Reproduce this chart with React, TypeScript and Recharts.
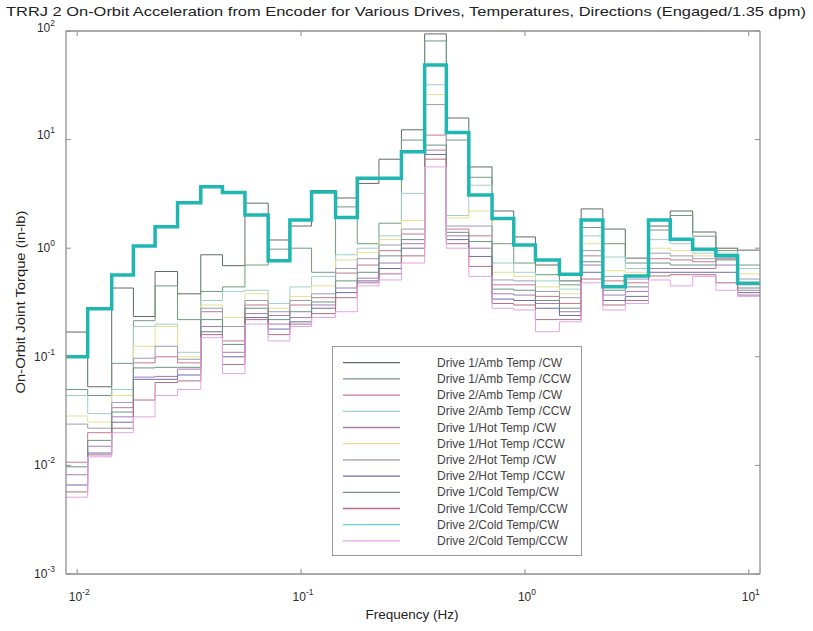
import { LineChart, Line, XAxis, YAxis, Legend } from 'recharts';

const FONT = '"Liberation Sans", Arial, Helvetica, sans-serif';
const AXIS = '#8f8f8f';

// one-third octave band centres (Hz)
const CENTERS = [
  0.01, 0.0125, 0.016, 0.02, 0.025, 0.0315, 0.04, 0.05, 0.063, 0.08,
  0.1, 0.125, 0.16, 0.2, 0.25, 0.315, 0.4, 0.5, 0.63, 0.8,
  1, 1.25, 1.6, 2, 2.5, 3.15, 4, 5, 6.3, 8, 10,
];
const X_TICKS = [0.01, 0.1, 1, 10];
const Y_TICKS = [0.001, 0.01, 0.1, 1, 10, 100];

// band torque levels (in-lb), one entry per band
const d1AmbCw = [0.169, 0.053, 0.43, 0.235, 0.61, 0.38, 0.87, 0.69, 2.6, 1.19, 1.6, 3.4, 2.9, 3.95, 6.6, 12.3, 94, 15.8, 5.6, 2.2, 1.27, 0.7, 0.5, 2.3, 1.5, 0.81, 1.6, 2.2, 1.41, 1.0, 0.96];
const d1AmbCcw = [0.05, 0.044, 0.087, 0.215, 0.45, 0.22, 0.4, 0.44, 0.7, 0.98, 1.0, 0.6, 2.4, 1.1, 1.7, 9.9, 81, 9.9, 4.5, 1.1, 0.73, 0.57, 0.46, 1.55, 1.1, 0.73, 1.47, 2.0, 1.29, 0.95, 0.7];
const d2AmbCw = [0.0107, 0.02, 0.034, 0.088, 0.1, 0.088, 0.26, 0.14, 0.3, 0.24, 0.3, 0.35, 0.59, 0.7, 0.95, 1.35, 11, 1.5, 1.3, 0.46, 0.46, 0.36, 0.31, 0.85, 0.5, 0.48, 0.8, 0.78, 0.75, 0.8, 0.46];
const d2AmbCcw = [0.044, 0.03, 0.05, 0.19, 0.2, 0.11, 0.33, 0.4, 0.41, 0.31, 0.44, 0.55, 0.87, 1.0, 1.3, 3.2, 32, 2.0, 3.8, 0.73, 0.6, 0.5, 0.42, 1.3, 0.83, 0.65, 1.2, 1.1, 0.9, 0.9, 0.65];
const d1HotCw = [0.0082, 0.015, 0.028, 0.065, 0.066, 0.077, 0.19, 0.11, 0.25, 0.2, 0.23, 0.3, 0.43, 0.53, 0.73, 1.1, 8.0, 1.3, 1.0, 0.38, 0.37, 0.31, 0.26, 0.7, 0.37, 0.4, 0.65, 0.65, 0.65, 0.7, 0.41];
const d1HotCcw = [0.0285, 0.025, 0.044, 0.125, 0.19, 0.1, 0.3, 0.23, 0.38, 0.28, 0.36, 0.45, 0.78, 0.91, 1.2, 1.8, 26, 1.9, 2.2, 0.6, 0.55, 0.44, 0.38, 1.1, 0.62, 0.6, 1.0, 0.95, 0.85, 0.87, 0.58];
const d2HotCw = [0.024, 0.022, 0.038, 0.097, 0.125, 0.095, 0.28, 0.19, 0.33, 0.26, 0.33, 0.38, 0.65, 0.8, 1.07, 1.5, 21, 1.6, 1.6, 0.51, 0.5, 0.4, 0.35, 0.95, 0.55, 0.52, 0.9, 0.85, 0.8, 0.83, 0.52];
const d2HotCcw = [0.0066, 0.013, 0.025, 0.062, 0.062, 0.068, 0.17, 0.1, 0.23, 0.18, 0.21, 0.28, 0.39, 0.5, 0.65, 1.0, 7.3, 1.2, 0.84, 0.34, 0.33, 0.28, 0.24, 0.6, 0.33, 0.36, 0.6, 0.6, 0.6, 0.6, 0.39];
const d1ColdCw = [0.0097, 0.017, 0.031, 0.079, 0.08, 0.08, 0.22, 0.13, 0.28, 0.22, 0.26, 0.32, 0.5, 0.6, 0.85, 1.2, 8.9, 1.4, 1.15, 0.42, 0.41, 0.33, 0.28, 0.75, 0.41, 0.44, 0.73, 0.7, 0.7, 0.78, 0.43];
const d1ColdCcw = [0.0057, 0.0125, 0.022, 0.04, 0.058, 0.06, 0.16, 0.085, 0.22, 0.16, 0.2, 0.25, 0.35, 0.48, 0.58, 0.85, 6.6, 1.1, 0.68, 0.31, 0.3, 0.22, 0.22, 0.52, 0.3, 0.33, 0.555, 0.57, 0.57, 0.48, 0.37];
const d2ColdCw = [0.1, 0.277, 0.566, 1.05, 1.58, 2.62, 3.68, 3.25, 2.02, 0.767, 1.82, 3.3, 1.92, 4.4, 4.4, 7.74, 48.6, 11.6, 3.09, 1.88, 1.07, 0.78, 0.575, 1.82, 0.442, 0.555, 1.82, 1.21, 0.977, 0.85, 0.475];
const d2ColdCcw = [0.0051, 0.012, 0.02, 0.028, 0.044, 0.05, 0.15, 0.07, 0.2, 0.14, 0.19, 0.23, 0.26, 0.45, 0.51, 0.73, 5.6, 1.0, 0.55, 0.28, 0.27, 0.17, 0.21, 0.48, 0.27, 0.31, 0.51, 0.45, 0.55, 0.41, 0.36];

const SERIES = [
  { key: 'd1AmbCw', name: 'Drive 1/Amb Temp /CW', color: '#5f6b66', values: d1AmbCw },
  { key: 'd1AmbCcw', name: 'Drive 1/Amb Temp /CCW', color: '#6f9c7c', values: d1AmbCcw },
  { key: 'd2AmbCw', name: 'Drive 2/Amb Temp /CW', color: '#c4798c', values: d2AmbCw },
  { key: 'd2AmbCcw', name: 'Drive 2/Amb Temp /CCW', color: '#9fd0cc', values: d2AmbCcw },
  { key: 'd1HotCw', name: 'Drive 1/Hot Temp /CW', color: '#a67cb4', values: d1HotCw },
  { key: 'd1HotCcw', name: 'Drive 1/Hot Temp /CCW', color: '#e6e08e', values: d1HotCcw },
  { key: 'd2HotCw', name: 'Drive 2/Hot Temp /CW', color: '#9a9cb8', values: d2HotCw },
  { key: 'd2HotCcw', name: 'Drive 2/Hot Temp /CCW', color: '#6c6cb0', values: d2HotCcw },
  { key: 'd1ColdCw', name: 'Drive 1/Cold Temp/CW', color: '#6a9484', values: d1ColdCw },
  { key: 'd1ColdCcw', name: 'Drive 1/Cold Temp/CCW', color: '#b46e82', values: d1ColdCcw },
  { key: 'd2ColdCw', name: 'Drive 2/Cold Temp/CW', color: '#62d4dc', values: d2ColdCw },
  { key: 'd2ColdCcw', name: 'Drive 2/Cold Temp/CCW', color: '#e4a4e4', values: d2ColdCcw },
];

const HALF_BAND = Math.pow(10, 0.05);

// each row starts a band; the last row closes the final band
const data = CENTERS.map((c, i) => {
  const row: Record<string, number> = { f: c / HALF_BAND };
  SERIES.forEach((s) => { row[s.key] = s.values[i]; });
  return row;
});
data.push({ ...data[data.length - 1], f: CENTERS[CENTERS.length - 1] * HALF_BAND });

const X_DOMAIN = [CENTERS[0] / HALF_BAND, CENTERS[CENTERS.length - 1] * HALF_BAND];

// the two upper y labels sit a little higher than their ticks
const Y_LABEL_NUDGE: Record<number, number> = { 2: -3, 1: -5 };

function Pow10({ x, y, exp, anchor }: { x: number; y: number; exp: number; anchor: 'start' | 'middle' | 'end' }) {
  return (
    <text x={x} y={y} textAnchor={anchor} fontFamily={FONT} fontSize={12} fill="#2b2b2b">
      10<tspan dy={-6} fontSize={8.5}>{exp}</tspan>
    </text>
  );
}

const expOf = (v: number) => Math.round(Math.log10(v));

const BottomTick = (p: any) => (
  <g>
    <line x1={p.x} x2={p.x} y1={p.y} y2={p.y - 5} stroke={AXIS} />
    <Pow10 x={p.x + 2} y={p.y + 27} exp={expOf(p.payload.value)} anchor="middle" />
  </g>
);
const TopTick = (p: any) => <line x1={p.x} x2={p.x} y1={p.y} y2={p.y + 5} stroke={AXIS} />;
const LeftTick = (p: any) => {
  const exp = expOf(p.payload.value);
  return (
    <g>
      <line x1={p.x} x2={p.x + 5} y1={p.y} y2={p.y} stroke={AXIS} />
      <Pow10 x={p.x - 11} y={p.y + 4 + (Y_LABEL_NUDGE[exp] ?? 0)} exp={exp} anchor="end" />
    </g>
  );
};
const RightTick = (p: any) => <line x1={p.x} x2={p.x - 5} y1={p.y} y2={p.y} stroke={AXIS} />;

const LegendBox = () => (
  <svg width={250} height={210} style={{ display: 'block' }}>
    <rect x={0.5} y={0.5} width={249} height={209} fill="#fff" stroke="#999" />
    {SERIES.map((s, i) => {
      const y = 16.7 + i * 16.2;
      return (
        <g key={s.key}>
          <line x1={11} x2={68} y1={y} y2={y} stroke={s.color} strokeWidth={1.3} />
          <text x={105} y={y + 4} fontFamily={FONT} fontSize={12} fill="#444">{s.name}</text>
        </g>
      );
    })}
  </svg>
);

export default function App() {
  return (
    <div style={{ position: 'absolute', left: 0, top: 0, background: '#fff' }}>
      <LineChart width={813} height={631} data={data} margin={{ top: 30, right: 52, bottom: 56, left: 65 }}>
        <XAxis dataKey="f" type="number" scale="log" domain={X_DOMAIN} allowDataOverflow
          ticks={X_TICKS} height={1} tickSize={0} tickMargin={0} interval={0}
          axisLine={{ stroke: AXIS, strokeWidth: 1.3 }} tick={BottomTick} />
        <XAxis xAxisId="top" orientation="top" dataKey="f" type="number" scale="log" domain={X_DOMAIN} allowDataOverflow
          ticks={X_TICKS} height={1} tickSize={0} tickMargin={0} interval={0}
          axisLine={{ stroke: AXIS, strokeWidth: 1.3 }} tick={TopTick} />
        <YAxis type="number" scale="log" domain={[0.001, 100]} allowDataOverflow
          ticks={Y_TICKS} width={1} tickSize={0} tickMargin={0} interval={0}
          axisLine={{ stroke: AXIS, strokeWidth: 1.3 }} tick={LeftTick} />
        <YAxis yAxisId="right" orientation="right" type="number" scale="log" domain={[0.001, 100]} allowDataOverflow
          ticks={Y_TICKS} width={1} tickSize={0} tickMargin={0} interval={0}
          axisLine={{ stroke: AXIS, strokeWidth: 1.3 }} tick={RightTick} />
        {SERIES.filter((s) => s.key !== 'd2ColdCw').map((s) => (
          <Line key={s.key} dataKey={s.key} name={s.name} type="stepAfter" stroke={s.color}
            strokeWidth={1} dot={false} activeDot={false} isAnimationActive={false} />
        ))}
        <Line dataKey="d2ColdCw" name="Drive 2/Cold Temp/CW" type="stepAfter" stroke="#20b6b1"
          strokeWidth={3.5} dot={false} activeDot={false} isAnimationActive={false} />
        <Legend layout="vertical" align="center" verticalAlign="middle"
          wrapperStyle={{ left: 332, top: 346, width: 250, height: 210 }} content={() => <LegendBox />} />
        <text x={406} y={16} textAnchor="middle" fontFamily={FONT} fontSize={13} fill="#222"
          textLength={800} lengthAdjust="spacingAndGlyphs">
          TRRJ 2 On-Orbit Acceleration from Encoder for Various Drives, Temperatures, Directions (Engaged/1.35 dpm)
        </text>
        <text x={412} y={619} textAnchor="middle" fontFamily={FONT} fontSize={13.5} fill="#222">Frequency (Hz)</text>
        <text x={0} y={0} transform="translate(25 302) rotate(-90)" textAnchor="middle" fontFamily={FONT}
          fontSize={13.5} fill="#222" textLength={183} lengthAdjust="spacingAndGlyphs">On-Orbit Joint Torque (in-lb)</text>
      </LineChart>
    </div>
  );
}
